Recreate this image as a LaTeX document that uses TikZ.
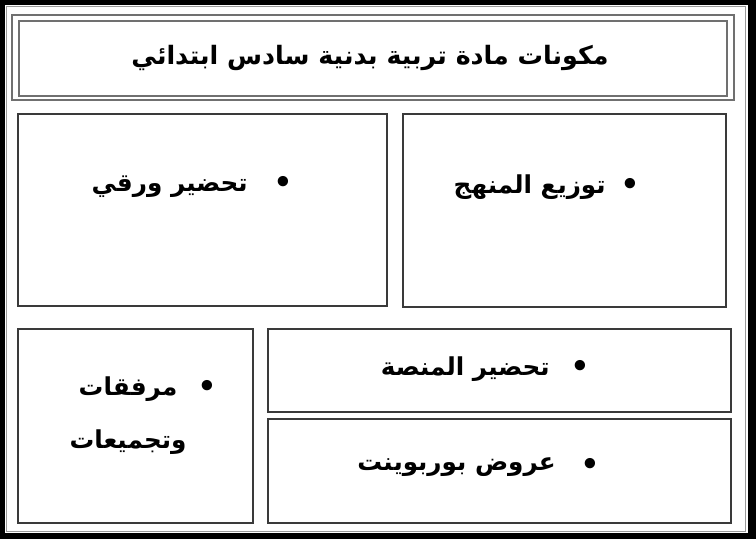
\documentclass[tikz,border=0pt]{standalone}
\usepackage{fontspec}
\newfontfamily\arabicfont[Script=Arabic]{DejaVu Sans}
\TeXXeTstate=1
\definecolor{boxline}{HTML}{3A3A3A}
\definecolor{titleline}{HTML}{707070}
\definecolor{frameline}{HTML}{9A9A9A}
\tikzset{
  cell/.style={draw=boxline, line width=1.1pt},
  tframe/.style={draw=titleline, line width=1.3pt},
  atext/.style={font=\arabicfont\bfseries\fontsize{18.5}{26}\selectfont, inner sep=0pt, anchor=east},
  bul/.style={font=\arabicfont\bfseries\fontsize{22}{26}\selectfont, inner sep=0pt},
  ttext/.style={font=\arabicfont\bfseries\fontsize{19}{24}\selectfont, inner sep=0pt},
}
\begin{document}
\begin{tikzpicture}[x=0.75pt,y=-0.75pt]
\useasboundingbox (0,0) rectangle (756,539);
% outer frame
\fill[black] (0,0) rectangle (756,539);
\fill[white] (5,5) rectangle (748,533);
\draw[frameline, line width=1pt] (6.5,6.5) rectangle (745.5,531.5);
% title double frame
\draw[tframe] (12,15) rectangle (734,100);
\draw[tframe] (19,21) rectangle (727,96);
\node[ttext] (title) at (370,58) {\beginR مكونات مادة تربية بدنية سادس ابتدائي\endR};
% boxes
\draw[cell] (403,114) rectangle (726,307);
\draw[cell] (18,114) rectangle (387,306);
\draw[cell] (18,329) rectangle (253,523);
\draw[cell] (268,329) rectangle (731,412);
\draw[cell] (268,419) rectangle (731,523);
% texts
\node[atext] (t1) at (606,187) {\beginR توزيع المنهج\endR};
\node[bul] (b1) at (630,186) {•};
\node[atext] (t2) at (248,187) {\beginR تحضير ورقي\endR};
\node[bul] (b2) at (283,184) {•};
\node[atext] (t4) at (550,369) {\beginR تحضير المنصة\endR};
\node[bul] (b4) at (580,368) {•};
\node[atext] (t5) at (556,467) {\beginR عروض بوربوينت\endR};
\node[bul] (b5) at (590,466) {•};
\node[atext, anchor=center] (t3a) at (128,389) {\beginR مرفقات\endR};
\node[atext, anchor=center] (t3b) at (128,442) {\beginR وتجميعات\endR};
\node[bul] (b3) at (207,388) {•};
\end{tikzpicture}
\end{document}
